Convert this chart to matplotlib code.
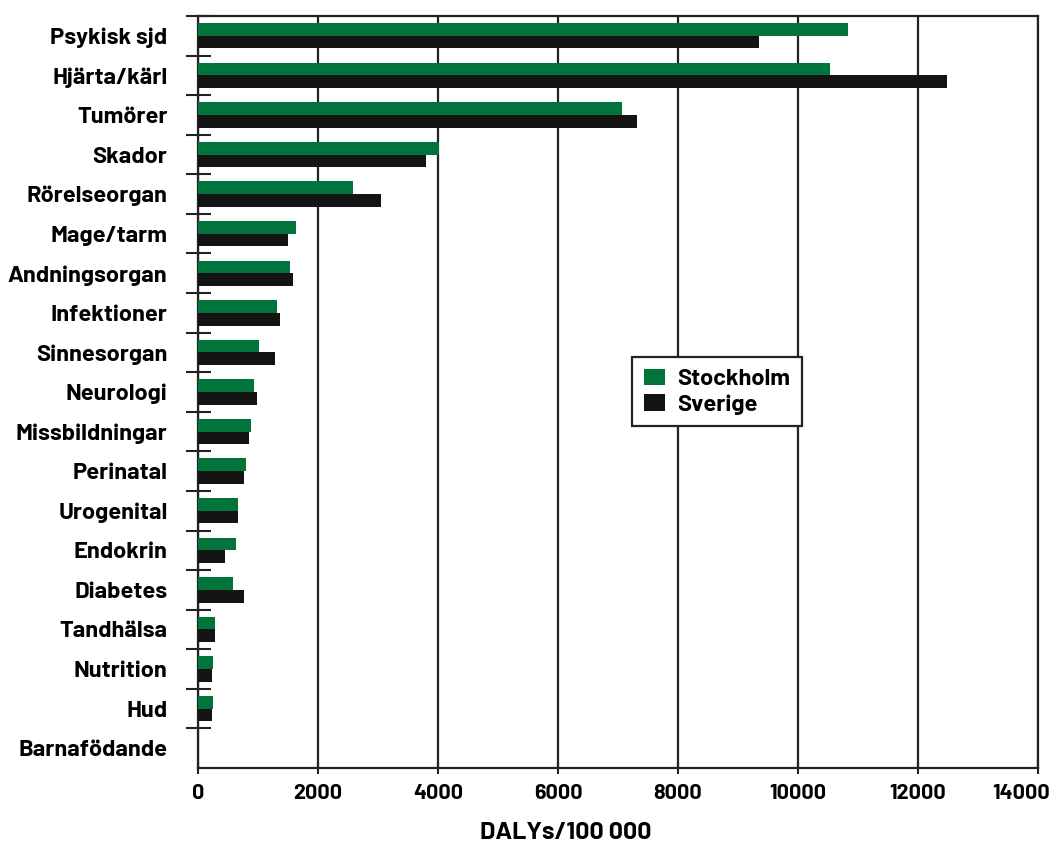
import numpy as np
import matplotlib.pyplot as plt
from matplotlib import font_manager

categories = ['Psykisk sjd', 'Hjärta/kärl', 'Tumörer', 'Skador', 'Rörelseorgan',
              'Mage/tarm', 'Andningsorgan', 'Infektioner', 'Sinnesorgan', 'Neurologi',
              'Missbildningar', 'Perinatal', 'Urogenital', 'Endokrin', 'Diabetes',
              'Tandhälsa', 'Nutrition', 'Hud', 'Barnafödande']
stockholm = [10830, 10530, 7060, 4020, 2580, 1630, 1540, 1320, 1020, 940,
             890, 800, 670, 630, 580, 290, 245, 245, 0]
sverige = [9350, 12480, 7320, 3800, 3055, 1495, 1590, 1370, 1280, 985,
           845, 760, 670, 450, 770, 285, 240, 235, 0]
xticks = [0, 2000, 4000, 6000, 8000, 10000, 12000, 14000]

names = {f.name for f in font_manager.fontManager.ttflist}


def pick(*fams):
    for f in fams:
        if f in names:
            return [f, 'DejaVu Sans']
    return ['DejaVu Sans']


font_lab = pick('Barlow', 'Roboto Condensed', 'Liberation Sans Narrow')
plt.rcParams['font.family'] = font_lab
plt.rcParams['font.weight'] = 'bold'

green = '#00743a'
black = '#141414'
lines = '#222222'

fig = plt.figure(figsize=(10.52, 8.47), dpi=100)
ax = fig.add_axes([198 / 1052, 1 - 768 / 847, 840 / 1052, 752 / 847])

y = np.arange(len(categories))
h = 0.32
ax.barh(y - h / 2, stockholm, height=h, color=green, label='Stockholm', zorder=3)
ax.barh(y + h / 2, sverige, height=h, color=black, label='Sverige', zorder=3)

ax.set_xlim(0, 14000)
ax.set_ylim(len(categories) - 0.5, -0.5)
ax.set_xticks(xticks)
# last label would hit the figure edge, so draw it by hand a bit to the left
ax.set_xticklabels([str(v) for v in xticks[:-1]] + [''], fontsize=15.5, fontweight='bold')
ax.annotate(str(xticks[-1]), xy=(xticks[-1], 0), xycoords=('data', 'axes fraction'),
            xytext=(-12, -11.5), textcoords='offset points', ha='center', va='top',
            fontsize=15.5, fontweight='bold', annotation_clip=False)

ax.set_yticks(y)
ax.set_yticklabels(categories, fontsize=17, fontweight='bold')
ax.tick_params(axis='y', which='major', length=0, pad=22)
ax.set_yticks(np.arange(len(categories)) - 0.5, minor=True)
ax.tick_params(axis='y', which='minor', length=18, width=1.5, direction='inout', color=lines)
ax.tick_params(axis='x', length=9, width=1.5, direction='inout', pad=7, color=lines)

ax.grid(axis='x', color=lines, linewidth=1.6, zorder=1)
for s in ax.spines.values():
    s.set_linewidth(1.6)
    s.set_color(lines)

fig.text(566 / 1052, 1 - 833 / 847, 'DALYs/100 000', ha='center', va='center',
         fontsize=18, fontweight='bold')

leg = ax.legend(loc='upper left', bbox_to_anchor=(632 / 1052, 1 - 357 / 847),
                bbox_transform=fig.transFigure, fancybox=False, framealpha=1,
                edgecolor=lines, fontsize=17, handlelength=0.9, borderaxespad=0,
                handleheight=0.7, handletextpad=0.5, borderpad=0.5, labelspacing=0.2)
leg.get_frame().set_linewidth(1.6)
leg.set_zorder(5)

fig.savefig('out.png', dpi=100)
